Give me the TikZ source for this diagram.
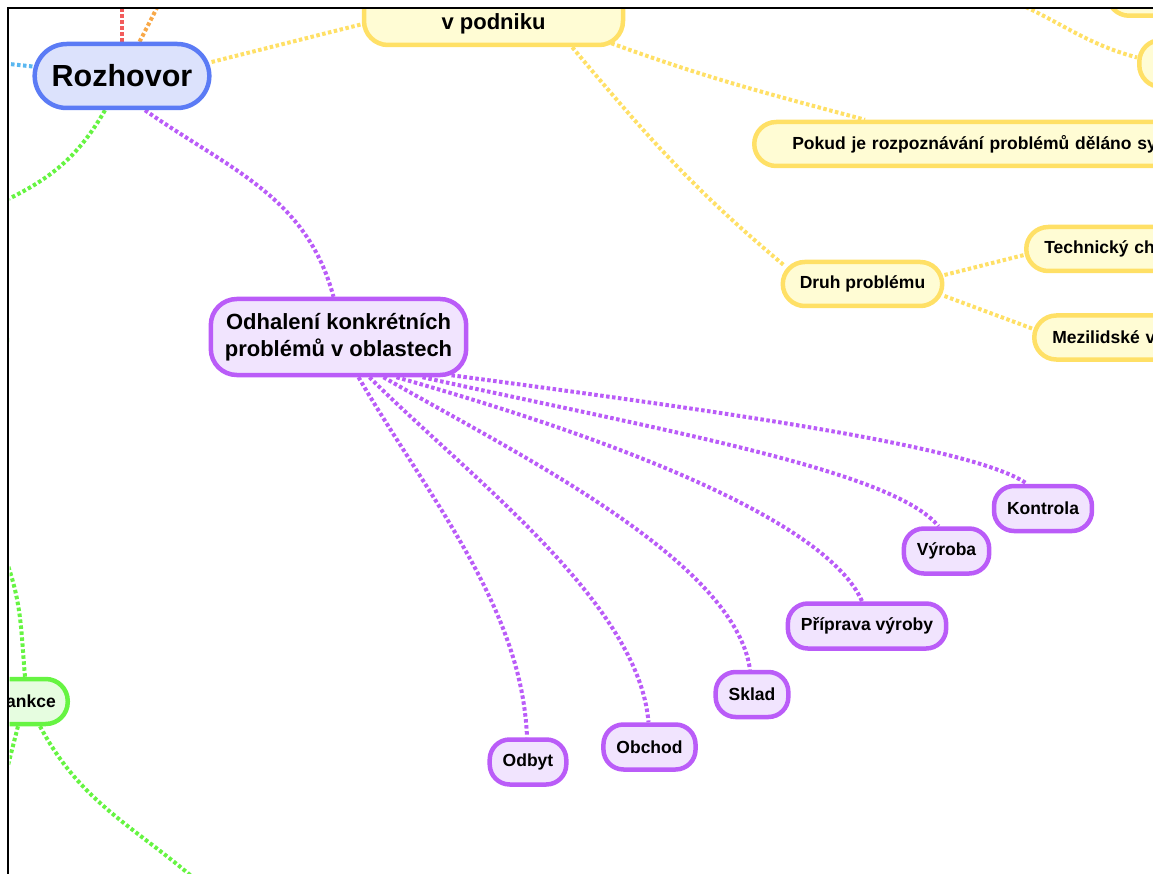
\documentclass[tikz,border=0pt]{standalone}
\usepackage{fontspec}
\setmainfont{Liberation Sans}
\pgfdeclarelayer{bg}
\pgfsetlayers{bg,main}

\definecolor{blueline}{HTML}{5B7BF5}
\definecolor{bluefill}{HTML}{DCE2FC}
\definecolor{yellowline}{HTML}{FFE066}
\definecolor{yellowfill}{HTML}{FFFCD4}
\definecolor{purpleline}{HTML}{BA5CF8}
\definecolor{purplefill}{HTML}{F1E4FE}
\definecolor{greenline}{HTML}{66F442}
\definecolor{greenfill}{HTML}{E6FDE0}
\definecolor{redline}{HTML}{F25C5C}
\definecolor{orangeline}{HTML}{F8A848}
\definecolor{skyline}{HTML}{5AB7F0}

\tikzset{
  bubble/.style={draw, line width=4.5pt, text=black,
    font=\bfseries\fontsize{17.5}{21}\selectfont,
    inner xsep=13pt, inner ysep=0pt, minimum height=45pt,
    rounded corners=20pt},
  purplenode/.style={bubble, draw=purpleline, fill=purplefill},
  yellownode/.style={bubble, draw=yellowline, fill=yellowfill,
    inner xsep=17pt, minimum height=44pt, rounded corners=22pt},
  greennode/.style={bubble, draw=greenline, fill=greenfill,
    inner xsep=12pt, rounded corners=22pt},
  bluenode/.style={bubble, draw=blueline, fill=bluefill,
    font=\bfseries\fontsize{30.5}{36}\selectfont,
    inner xsep=17pt, minimum height=64pt, rounded corners=32pt},
  link/.style={line width=4pt, dash pattern=on 3.5pt off 2.5pt},
}

\begin{document}
\begin{tikzpicture}[x=1pt,y=1pt]
\useasboundingbox (0,0) rectangle (1153,-874);

% loose ends of branches leaving the visible area
\coordinate (redEnd) at (122,2);
\coordinate (orangeEnd) at (161,0);
\coordinate (skyEnd) at (0,-63);
\coordinate (greenEnd) at (0,-203);
\coordinate (trSrc) at (1015,-2);
\coordinate (gA) at (6,-560);
\coordinate (gB) at (3,-785);
\coordinate (gC) at (205,-888);

\begin{scope}
\clip (9.5,-9.5) rectangle (1153,-874);

% central topic
\node[bluenode] (roz) at (122,-76) {Rozhovor};

% yellow branch
\node[yellownode, font=\bfseries\fontsize{22}{27}\selectfont,
      minimum width=259pt, text height=60pt, text depth=8pt,
      inner ysep=7pt, anchor=base, rounded corners=24pt]
      (vpod) at (493.5,-30) {v podniku};
\node[yellownode, anchor=west, text width=420pt, align=left,
      inner xsep=38pt] (pokud) at (752,-144)
      {Pokud je rozpoznávání problémů děláno sy};
\node[yellownode] (druh) at (862.5,-284) {Druh problému};
\node[yellownode, anchor=west, text width=250pt, align=left,
      inner xsep=18pt] (tech) at (1024,-249) {Technický ch};
\node[yellownode, anchor=west, text width=250pt, align=left,
      inner xsep=18pt] (mez) at (1032,-337.5) {Mezilidské v};
\node[yellownode, anchor=south west, minimum width=150pt,
      minimum height=46pt] (trA) at (1105,-18) {};
\node[yellownode, anchor=west, minimum width=150pt,
      minimum height=47pt] (trB) at (1137,-63.5) {};

% purple branch
\node[purplenode, font=\bfseries\fontsize{22}{27}\selectfont,
      align=center, minimum height=76pt, inner xsep=14pt,
      rounded corners=26pt] (odh) at (338.5,-337)
      {Odhalení konkrétních\\problémů v oblastech};
\node[purplenode] (kon) at (1043,-508.5) {Kontrola};
\node[purplenode] (vyr) at (946.5,-551) {Výroba};
\node[purplenode] (pri) at (867,-626) {Příprava výroby};
\node[purplenode] (skl) at (752,-694.5) {Sklad};
\node[purplenode] (obc) at (649.5,-747) {Obchod};
\node[purplenode] (odb) at (528,-762) {Odbyt};

% green branch
\node[greennode, anchor=east, text width=100pt, align=right]
      (ank) at (70,-701.5) {ankce};
\node[greennode, anchor=east, minimum width=80pt, minimum height=44pt]
      (gLeft) at (9.7,-340) {};
\end{scope}

\begin{pgfonlayer}{bg}
\clip (9.5,-9.5) rectangle (1153,-874);
% branches of the central topic
\draw[link, draw=redline] (roz) -- (redEnd);
\draw[link, draw=orangeline] (roz) -- (orangeEnd);
\draw[link, draw=skyline] (roz) -- (skyEnd);
\draw[link, draw=greenline] ([xshift=-17pt]roz.south) to[out=-120,in=25] (greenEnd);
\draw[link, draw=yellowline] ([yshift=14pt]roz.east) -- ([yshift=23pt]vpod.south west);
\draw[link, draw=purpleline] ([xshift=23pt]roz.south) to[out=-35,in=105] ([xshift=-5pt]odh.north);

% yellow sub-branches
\draw[link, draw=yellowline] ([xshift=-14pt,yshift=4pt]vpod.south east) to[out=-20,in=165] ([xshift=113pt]pokud.north west);
\draw[link, draw=yellowline] ([xshift=-53pt]vpod.south east) to[out=-50,in=140] ([xshift=4pt,yshift=-6pt]druh.north west);
\draw[link, draw=yellowline] ([yshift=9pt]druh.east) -- ([yshift=-6pt]tech.west);
\draw[link, draw=yellowline] ([yshift=-12pt]druh.east) -- ([yshift=9pt]mez.west);
\draw[link, draw=yellowline] (trSrc) to[out=-24,in=165] ([yshift=6pt]trB.west);

% purple sub-branches
\draw[link, draw=purpleline] ([xshift=20pt]odh.south)
  .. controls +(70,-120) and +(-5,130) .. ([xshift=-1pt]odb.north);
\draw[link, draw=purpleline] ([xshift=31pt]odh.south)
  .. controls +(100,-100) and +(-10,120) .. ([xshift=-1pt]obc.north);
\draw[link, draw=purpleline] ([xshift=45pt]odh.south)
  .. controls +(130,-75) and +(-15,110) .. ([xshift=-2pt]skl.north);
\draw[link, draw=purpleline] ([xshift=58pt]odh.south)
  .. controls +(220,-62) and +(-35,80) .. ([xshift=-5pt]pri.north);
\draw[link, draw=purpleline] ([xshift=84pt]odh.south)
  .. controls +(250,-55) and +(-45,55) .. ([xshift=-8pt]vyr.north);
\draw[link, draw=purpleline] ([xshift=113pt,yshift=2pt]odh.south)
  .. controls +(300,-40) and +(-50,35) .. ([xshift=-16pt]kon.north);

% green sub-branches
\draw[link, draw=greenline] ([xshift=-45pt]ank.north east) to[out=95,in=-70] (gA);
\draw[link, draw=greenline] ([xshift=-52pt]ank.south east) -- (gB);
\draw[link, draw=greenline] ([xshift=-30pt]ank.south east) to[out=-62,in=138] (gC);
\end{pgfonlayer}

% frame
\draw[line width=2.5pt] (8,-874) -- (8,-8) -- (1153,-8);
\end{tikzpicture}
\end{document}
